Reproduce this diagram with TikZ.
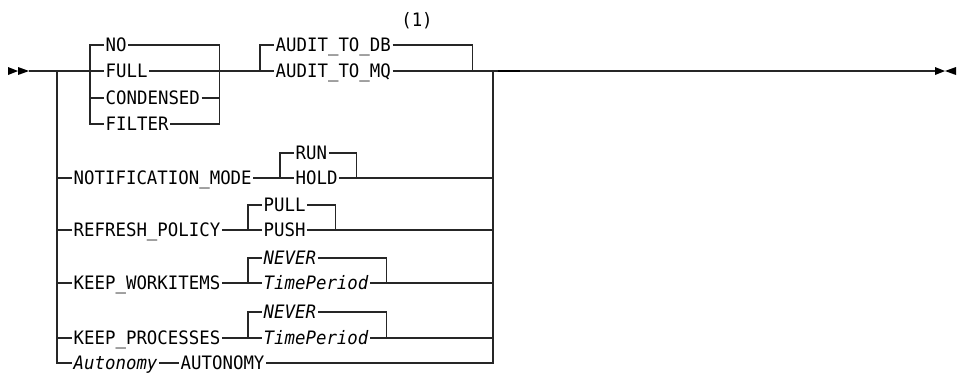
\documentclass[tikz,border=0pt]{standalone}
\usepackage{fontspec}
\usepackage{tikz}
\usetikzlibrary{calc}
\newfontfamily\rrfont{DejaVu Sans Mono}[FakeStretch=0.94]

\begin{document}
\begin{tikzpicture}[x=1pt, y=-1pt,
    kw/.style={font=\rrfont\fontsize{18.5}{21}\selectfont, text height=13.4pt, text depth=0pt, inner xsep=1.5pt, inner ysep=0pt, anchor=west},
    var/.style={kw, font=\rrfont\fontsize{18.5}{21}\selectfont\itshape},
    rail/.style={line width=1.2pt, black!85},
    tip/.style={fill=black, draw=none},
]
\useasboundingbox (0,0) rectangle (964,373);

% Ends and junctions
\coordinate (in) at (29,71);
\coordinate (out) at (935,71);
\coordinate (lv) at (57,71);
\coordinate (rv) at (493,71);

% Audit level
\node[kw] (no) at (104,45) {NO};
\node[kw] (full) at (104,71) {FULL};
\node[kw] (cond) at (104,98) {CONDENSED};
\node[kw] (filter) at (104,124) {FILTER};
\node[kw] (todb) at (274,45) {AUDIT\_TO\_DB};
\node[kw] (tomq) at (274,71) {AUDIT\_TO\_MQ};
\node[kw, anchor=center] (note) at (417,20) {(1)};

% Notification mode
\node[kw] (notif) at (72,178) {NOTIFICATION\_MODE};
\node[kw] (run) at (294,153) {RUN};
\node[kw] (hold) at (294,178) {HOLD};

% Refresh policy
\node[kw] (refresh) at (72,230) {REFRESH\_POLICY};
\node[kw] (pull) at (262,205) {PULL};
\node[kw] (push) at (262,230) {PUSH};

% Keep workitems
\node[kw] (keepw) at (72,283) {KEEP\_WORKITEMS};
\node[var] (neverw) at (262,258) {NEVER};
\node[var] (timew) at (262,283) {TimePeriod};

% Keep processes
\node[kw] (keepp) at (72,338) {KEEP\_PROCESSES};
\node[var] (neverp) at (262,312) {NEVER};
\node[var] (timep) at (262,338) {TimePeriod};

% Autonomy
\node[var] (auton) at (72,363) {Autonomy};
\node[kw] (autonkw) at (179,363) {AUTONOMY};

% Main line
\fill[tip] ($(in)+(-21,-4)$) -- ($(in)+(-11,0)$) -- ($(in)+(-21,4)$) -- cycle;
\fill[tip] ($(in)+(-11,-4)$) -- (in) -- ($(in)+(-11,4)$) -- cycle;
\draw[rail] (in) -- (full.west);
\draw[rail] (full.east) -- (tomq.west);
\draw[rail] (tomq.east) -- (out);
\draw[line width=2.4pt, black] ([xshift=5pt]rv) -- ([xshift=27pt]rv);
\fill[tip] ($(out)+(0,-4)$) -- ($(out)+(10,0)$) -- ($(out)+(0,4)$) -- cycle;
\fill[tip] ($(out)+(21,-4)$) -- ($(out)+(10,0)$) -- ($(out)+(21,4)$) -- cycle;

% NO / FULL / CONDENSED / FILTER
\draw[rail] (no.west) -| ([xshift=-14pt]filter.west) -- (filter.west);
\draw[rail] (cond.west) -- ([xshift=-14pt]cond.west);
\draw[rail] (no.east) -| ([xshift=18pt]cond.east |- filter.east) -- (filter.east);
\draw[rail] (cond.east) -- ([xshift=18pt]cond.east);

% AUDIT_TO_DB / AUDIT_TO_MQ
\draw[rail] (todb.west) -| ([xshift=-14pt]tomq.west);
\draw[rail] (todb.east) -| ([xshift=80pt]tomq.east);

% Side rails
\draw[rail] (lv) |- (auton.west);
\draw[rail] (autonkw.east) -| (rv);

% Rows
\draw[rail] (notif.west -| lv) -- (notif.west);
\draw[rail] (notif.east) -- (hold.west);
\draw[rail] (hold.west) ++(-14,0) |- (run.west);
\draw[rail] (run.east) -| ([xshift=17pt]hold.east) -- (hold.east);
\draw[rail] (hold.east) -- (hold.east -| rv);

\draw[rail] (refresh.west -| lv) -- (refresh.west);
\draw[rail] (refresh.east) -- (push.west);
\draw[rail] (push.west) ++(-14,0) |- (pull.west);
\draw[rail] (pull.east) -| ([xshift=28pt]push.east) -- (push.east);
\draw[rail] (push.east) -- (push.east -| rv);

\draw[rail] (keepw.west -| lv) -- (keepw.west);
\draw[rail] (keepw.east) -- (timew.west);
\draw[rail] (timew.west) ++(-14,0) |- (neverw.west);
\draw[rail] (neverw.east) -| ([xshift=16pt]timew.east) -- (timew.east);
\draw[rail] (timew.east) -- (timew.east -| rv);

\draw[rail] (keepp.west -| lv) -- (keepp.west);
\draw[rail] (keepp.east) -- (timep.west);
\draw[rail] (timep.west) ++(-14,0) |- (neverp.west);
\draw[rail] (neverp.east) -| ([xshift=16pt]timep.east) -- (timep.east);
\draw[rail] (timep.east) -- (timep.east -| rv);

\draw[rail] (auton.east) -- (autonkw.west);
\end{tikzpicture}
\end{document}
